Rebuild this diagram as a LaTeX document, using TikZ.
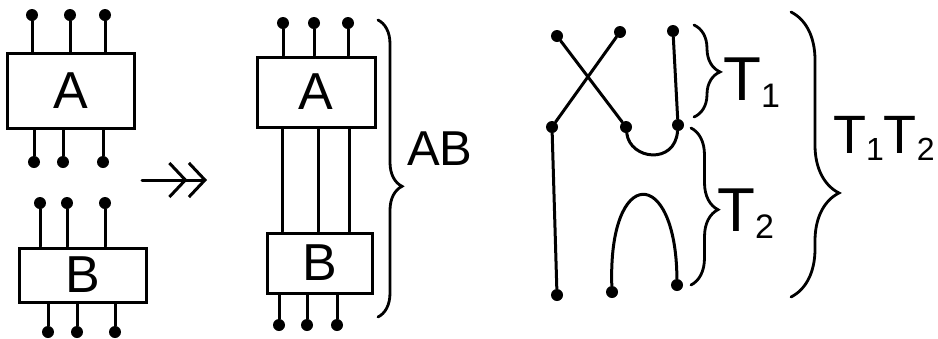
\documentclass[tikz,border=0pt]{standalone}
\usepackage{fontspec}
\setmainfont{Liberation Sans}
\usetikzlibrary{calc,arrows.meta,decorations.pathreplacing}
\tikzset{
  box/.style={draw,line width=3pt,inner sep=0pt,font=\fontsize{52}{52}\selectfont},
  blob/.style={circle,fill,inner sep=0pt,minimum size=12pt},
  wire/.style={line width=3pt,line cap=round},
  brc/.style={decorate,decoration={brace,amplitude=#1,aspect=\brcasp},line width=2.8pt,line cap=round},
  lbl/.style={inner sep=0pt,anchor=base west}
}
\newcommand{\brcasp}{0.5}
\newcommand{\lowidx}[2][34]{\raisebox{-7pt}{\fontsize{#1}{#1}\selectfont #2}}

\begin{document}
\begin{tikzpicture}[x=1pt,y=-1pt]
  \useasboundingbox (0,0) rectangle (938,338);
  \begin{scope}
    \node[box,minimum width=127pt,minimum height=75pt] (A) at (71,91) {A};
    \node[box,minimum width=127pt,minimum height=54pt] (B) at (83,275) {B};
    \foreach \n/\x/\y in {a1/32/15,a2/70/15,a3/105/15,a4/34/162,a5/63/162,a6/103/162}
      \node[blob] (\n) at (\x,\y) {};
    \foreach \n/\x/\y in {b1/40/203,b2/67/203,b3/105/203,b4/48/332,b5/77/332,b6/115/332}
      \node[blob] (\n) at (\x,\y) {};
    \foreach \n in {a1,a2,a3} \draw[wire] (\n) -- (\n |- A.north);
    \foreach \n in {a4,a5,a6} \draw[wire] (\n) -- (\n |- A.south);
    \foreach \n in {b1,b2,b3} \draw[wire] (\n) -- (\n |- B.north);
    \foreach \n in {b4,b5,b6} \draw[wire] (\n) -- (\n |- B.south);
    \coordinate (arrS) at (142,180);
    \coordinate (arrE) at (207,180);
    \draw[wire,-{Straight Barb[length=16pt,width=34pt]Straight Barb[length=16pt,width=34pt]}] (arrS) -- (arrE);
  \end{scope}
  \begin{scope}
    \node[box,minimum width=118pt,minimum height=70pt] (AB1) at (316,92) {A};
    \node[box,minimum width=105pt,minimum height=60pt] (AB2) at (320,263) {B};
    \foreach \n/\x/\y in {c1/283/23,c2/314/23,c3/348/23,c4/279/325,c5/307/325,c6/337/325}
      \node[blob] (\n) at (\x,\y) {};
    \foreach \n in {c1,c2,c3} \draw[wire] (\n) -- (\n |- AB1.north);
    \foreach \n in {c4,c5,c6} \draw[wire] (\n) -- (\n |- AB2.south);
    \foreach \n/\x in {w1/282,w2/318,w3/349} {
      \coordinate (\n) at (\x,0);
      \draw[wire] (AB1.south -| \n) -- (AB2.north -| \n);
    }
    \coordinate (brTop) at (378,20);
    \coordinate (brBot) at (378,317);
    \renewcommand{\brcasp}{0.56}
    \draw[brc=24pt] (brTop) -- (brBot);
    \node[lbl,font=\fontsize{49}{49}\selectfont] (labAB) at (407,165) {AB};
  \end{scope}
  \begin{scope}
    \foreach \n/\x/\y in {t1/557/36,t2/620/32,t3/673/31,m1/552/127,m2/626/127,m3/678/125,d1/557/295,d2/612/292,d3/677/285}
      \node[blob] (\n) at (\x,\y) {};
    \draw[wire] (t1) -- (m2);
    \draw[wire] (t2) -- (m1);
    \draw[wire] (t3) -- (m3);
    \draw[wire] (m1) -- (d1);
    \draw[wire] (m2) .. controls (630,160) and (675,165) .. (m3);
    \draw[wire] (d2) .. controls (608,165) and (676,165) .. (d3);
    \coordinate (brTa) at (694,25);
    \coordinate (brTb) at (694,117);
    \coordinate (brSa) at (691,128);
    \coordinate (brSb) at (691,285);
    \coordinate (brBa) at (791,12);
    \coordinate (brBb) at (791,297);
    \renewcommand{\brcasp}{0.51}
    \draw[brc=26pt] (brTa) -- (brTb);
    \renewcommand{\brcasp}{0.52}
    \draw[brc=27pt] (brSa) -- (brSb);
    \renewcommand{\brcasp}{0.635}
    \draw[brc=48pt] (brBa) -- (brBb);
    \node[lbl,font=\fontsize{62}{62}\selectfont] (labT1) at (723,100) {T\lowidx{1}};
    \node[lbl,font=\fontsize{62}{62}\selectfont] (labT2) at (717,231) {T\lowidx{2}};
    \node[lbl,font=\fontsize{54}{54}\selectfont] (labTT) at (833,153) {T\lowidx[32]{1}T\lowidx[32]{2}};
  \end{scope}
\end{tikzpicture}
\end{document}
